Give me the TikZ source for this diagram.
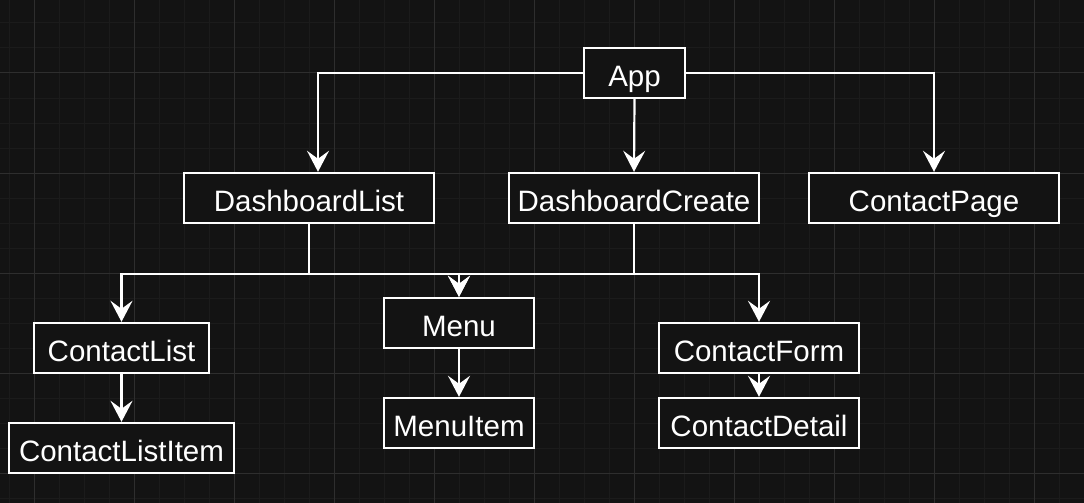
\documentclass[tikz,border=0pt]{standalone}
\usepackage{fontspec}
\setmainfont{Liberation Sans}
\usetikzlibrary{arrows.meta}
\definecolor{bg}{HTML}{131313}
\definecolor{gridminor}{HTML}{1B1B1B}
\definecolor{gridmajor}{HTML}{2E2E2E}
\tikzset{
  box/.style={draw=white, line width=2.4pt, fill=bg, text=white,
    font=\fontsize{29.5}{34}\selectfont, inner sep=0pt, minimum height=50pt,
    text height=26pt, text depth=0pt},
  conn/.style={draw=white, line width=2.2pt,
    -{Stealth[length=21pt, width=22pt, inset=8pt]}},
  plain/.style={draw=white, line width=2.2pt}
}
\begin{document}
\begin{tikzpicture}[x=1pt, y=-1pt]
\fill[bg] (0,0) rectangle (1084,503);
\useasboundingbox (0,0) rectangle (1084,503);
% grid
\foreach \gx in {9,34,...,1084} \draw[gridminor, line width=1pt] (\gx,0) -- (\gx,503);
\foreach \gy in {-2,23,...,503} \draw[gridminor, line width=1pt] (0,\gy) -- (1084,\gy);
\foreach \gx in {34,134,...,1034} \draw[gridmajor, line width=1pt] (\gx,0) -- (\gx,503);
\foreach \gy in {73,173,...,473} \draw[gridmajor, line width=1pt] (0,\gy) -- (1084,\gy);
% nodes
\node[box, minimum width=101pt] (app) at (634.5,73) {App};
\node[box, minimum width=250pt] (dl) at (309,198) {DashboardList};
\node[box, minimum width=250pt] (dc) at (634,198) {DashboardCreate};
\node[box, minimum width=250pt] (cp) at (934,198) {ContactPage};
\node[box, minimum width=175pt] (cl) at (121.5,348) {ContactList};
\node[box, minimum width=150pt] (menu) at (459,323) {Menu};
\node[box, minimum width=200pt] (cf) at (759,348) {ContactForm};
\node[box, minimum width=150pt] (mi) at (459,423) {MenuItem};
\node[box, minimum width=200pt] (cd) at (759,423) {ContactDetail};
\node[box, minimum width=225pt] (cli) at (121.5,448) {ContactListItem};
% connectors
\draw[conn] (app.west) -| ([xshift=9pt]dl.north);
\draw[conn] (app.south) -- (dc.north);
\draw[conn] (app.east) -| (cp.north);
\coordinate (dlj) at ([yshift=-50pt]dl.south);
\coordinate (dcj) at ([yshift=-50pt]dc.south);
\draw[plain] (dl.south) -- (dlj);
\draw[plain] (dc.south) -- (dcj);
\draw[conn] (dlj) -| (cl.north);
\draw[conn] (dlj) -| (menu.north);
\draw[conn] (dcj) -| (menu.north);
\draw[conn] (dcj) -| (cf.north);
\draw[conn] (cl.south) -- (cli.north);
\draw[conn] (menu.south) -- (mi.north);
\draw[conn] (cf.south) -- (cd.north);
\end{tikzpicture}
\end{document}
